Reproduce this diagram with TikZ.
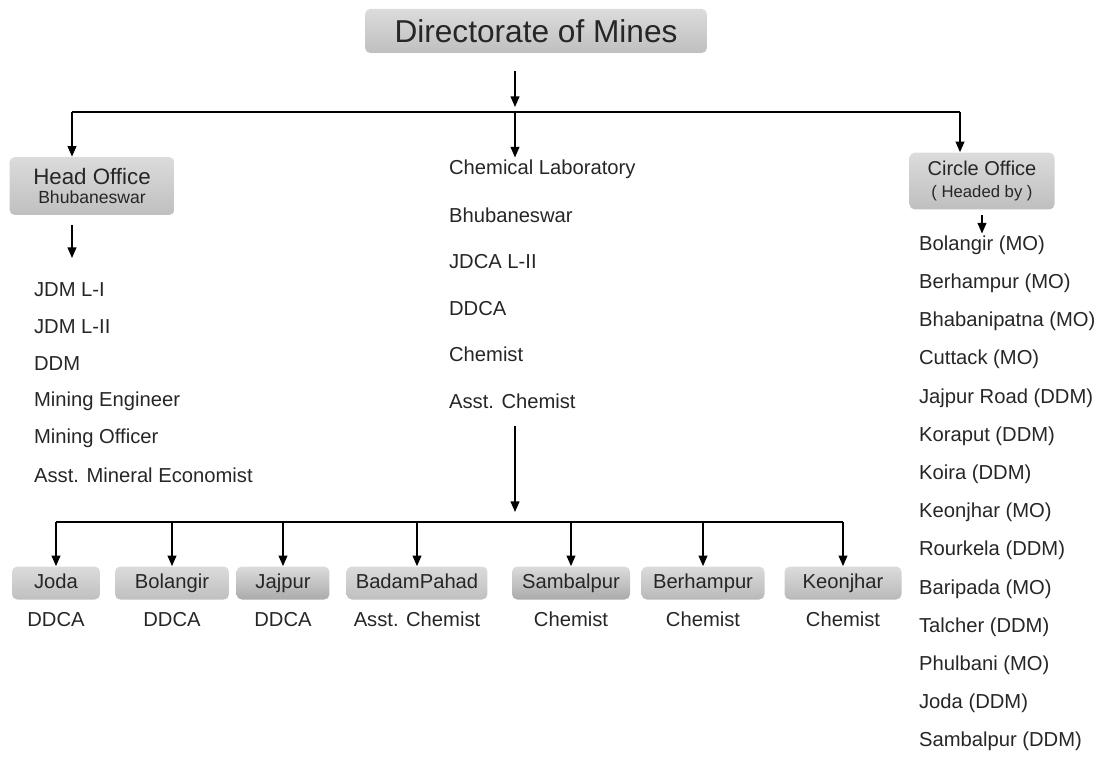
\documentclass[tikz,border=0pt]{standalone}
\usepackage{fontspec}
\setmainfont{Liberation Sans}
\usetikzlibrary{arrows.meta,positioning,calc}

\begin{document}
\begin{tikzpicture}[
    x=0.02cm, y=-0.02cm,
    txt/.style={anchor=west, inner sep=1pt, font=\fontsize{11.5}{13}\selectfont, text=black!85},
    gbox/.style={rectangle, rounded corners=3pt, top color=gray!28, bottom color=gray!50, align=center, text=black!85},
    lowbox/.style={gbox, minimum height=0.66cm, text height=1.6ex, text depth=0.45ex, font=\fontsize{11.5}{13}\selectfont},
    lowtxt/.style={text height=1.6ex, text depth=0.45ex, font=\fontsize{11.5}{13}\selectfont, text=black!85},
    arr/.style={-{Triangle[width=5pt,length=6pt]}, line width=0.8pt},
    bus/.style={line width=0.8pt}
  ]
    \useasboundingbox (0,0) rectangle (1104,773);

    % boxes
    \node[gbox, minimum width=6.84cm, minimum height=0.88cm, font=\fontsize{18}{20}\selectfont] (dir) at (536,31) {Directorate of Mines};
    \node[gbox, minimum width=3.3cm, minimum height=1.16cm] (head) at (92,186)
      {{\fontsize{12.7}{14}\selectfont Head Office}\\[-1pt]{\fontsize{10}{11}\selectfont Bhubaneswar}};
    \node[gbox, minimum width=2.9cm, minimum height=1.14cm] (circ) at (982,181)
      {{\fontsize{11.4}{13}\selectfont Circle Office}\\{\fontsize{9.5}{11}\selectfont ( Headed by )}};

    % lists
    \foreach \t [count=\i] in {JDM L-I, JDM L-II, DDM, Mining Engineer, Mining Officer, Asst. Mineral Economist}
      \node[txt] (l\i) at (32, {290+37*(\i-1)}) {\t};
    \foreach \t [count=\i] in {Chemical Laboratory, Bhubaneswar, JDCA L-II, DDCA, Chemist, Asst. Chemist}
      \node[txt] (m\i) at (447, {169+46.4*(\i-1)}) {\t};
    \foreach \t [count=\i] in {Bolangir (MO), Berhampur (MO), Bhabanipatna (MO), Cuttack (MO), Jajpur Road (DDM), Koraput (DDM), Koira (DDM), Keonjhar (MO), Rourkela (DDM), Baripada (MO), Talcher (DDM), Phulbani (MO), Joda (DDM), Sambalpur (DDM)}
      \node[txt] (r\i) at (917, {245+38.2*(\i-1)}) {\t};

    % laboratories
    \foreach \n/\x/\w/\c/\lab [count=\i] in {Joda/56/1.76/50/DDCA, Bolangir/172/2.28/50/DDCA, Jajpur/283/1.86/66/DDCA, BadamPahad/417/2.82/50/Asst. Chemist, Sambalpur/571/2.36/66/Chemist, Berhampur/703/2.46/55/Chemist, Keonjhar/843/2.34/55/Chemist}
    {
      \node[lowbox, minimum width=\w cm, bottom color=gray!\c] (b\i) at (\x,583) {\n};
      \node[lowtxt] (c\i) at (\x,621) {\lab};
    }

    % connectors
    \coordinate (tl) at (72,112);
    \coordinate (tb) at (515,112);
    \coordinate (tr) at (960,112);
    \coordinate (hd) at (72,258);
    \coordinate (bb) at (515,522);
    \draw[arr, shorten <=0.35cm, shorten >=0.1cm] (dir.south -| tb) -- (tb);
    \draw[bus] (tl) -- (tr);
    \draw[arr] (tl) -- (tl |- head.north);
    \draw[arr] (tb) -- (tb |- m1.north);
    \draw[arr] (tr) -- (tr |- circ.north);
    \draw[arr, shorten <=0.2cm] (head.south -| hd) -- (hd);
    \draw[arr, shorten <=0.1cm] (circ.south -| r1.north) -- (r1.north);
    \draw[arr, shorten <=0.3cm, shorten >=0.2cm] (m6.south -| bb) -- (bb);
    \draw[bus] (b1.north |- bb) -- (b7.north |- bb);
    \foreach \i in {1,...,7}
      \draw[arr] (b\i.north |- bb) -- (b\i.north);
  \end{tikzpicture}
\end{document}
